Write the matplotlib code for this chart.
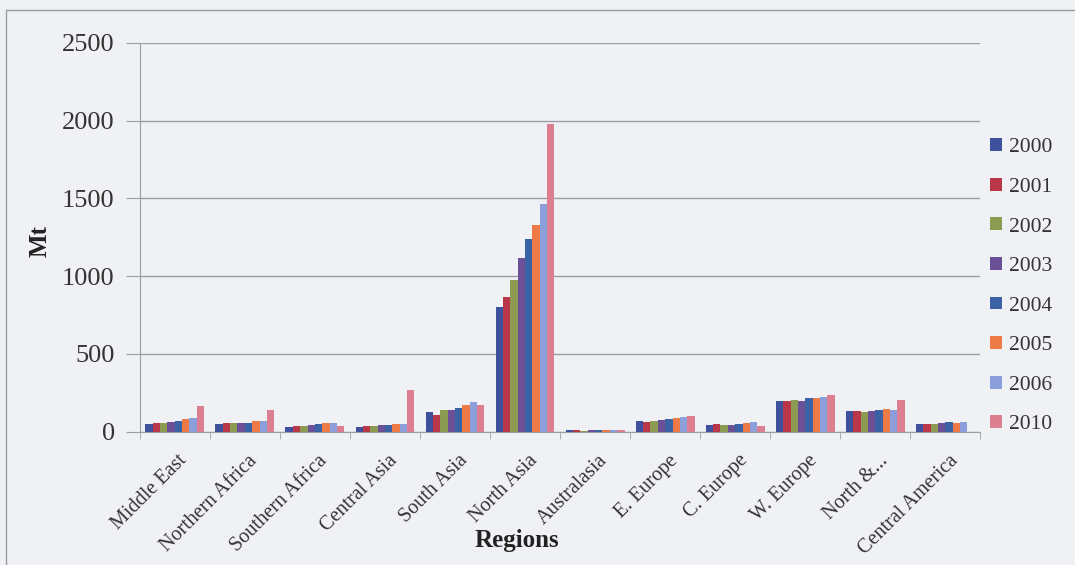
import numpy as np
import matplotlib
matplotlib.use("Agg")
import matplotlib.pyplot as plt
import matplotlib.transforms as mtrans
from matplotlib.patches import Rectangle

regions = ["Middle East", "Northern Africa", "Southern Africa", "Central Asia",
           "South Asia", "North Asia", "Australasia", "E. Europe", "C. Europe",
           "W. Europe", "North &...", "Central America"]
years = ["2000", "2001", "2002", "2003", "2004", "2005", "2006", "2010"]

v2000 = [51, 51, 32, 30, 128, 799, 8, 66, 45, 200, 130, 47]
v2001 = [58, 58, 38, 34, 109, 863, 8, 62, 51, 200, 130, 47]
v2002 = [58, 58, 38, 38, 137, 974, 5, 70, 40, 204, 124, 51]
v2003 = [64, 58, 45, 40, 141, 1120, 8, 74, 40, 200, 130, 55]
v2004 = [70, 58, 47, 40, 152, 1241, 10, 79, 51, 219, 139, 60]
v2005 = [79, 68, 58, 47, 173, 1327, 10, 89, 57, 219, 145, 57]
v2006 = [85, 68, 58, 51, 190, 1462, 10, 96, 64, 225, 141, 60]
v2010 = [167, 137, 34, 267, 171, 1980, 8, 100, 34, 234, 204, 0]

colors = ["#3d519c", "#b8384a", "#8c9a52", "#6c5097", "#3a62a4",
          "#ee7a48", "#8d9fda", "#dc7f91"]


def main():
    series = [v2000, v2001, v2002, v2003, v2004, v2005, v2006, v2010]
    plt.rcParams["font.family"] = ["Liberation Serif", "DejaVu Serif"]

    fig = plt.figure(figsize=(10.75, 5.65), dpi=100, facecolor="#eff1f5")
    ax = fig.add_axes([0.130, 0.236, 0.782, 0.688])
    ax.set_facecolor("#eff1f5")

    # slide frame
    fig.patches.append(Rectangle((0.006, -0.1), 1.2, 1.082, transform=fig.transFigure,
                                 fill=False, edgecolor="#9a9ca0", linewidth=1.0))

    x = np.arange(len(regions))
    w = 0.105
    for i, (vals, col) in enumerate(zip(series, colors)):
        ax.bar(x + (i - 3.5) * w, vals, width=w, color=col, label=years[i], zorder=3)

    ax.set_ylim(0, 2500)
    ax.set_xlim(-0.5, len(regions) - 0.5)
    ax.set_yticks(range(0, 2501, 500))
    ax.yaxis.grid(True, color="#9c9ea3", linewidth=1.0, zorder=0)
    ax.tick_params(axis="y", length=10, color="#9c9ea3", labelsize=19,
                   labelcolor="#333333", pad=8)

    ax.set_xticks(x)
    ax.set_xticklabels(regions, rotation=45, ha="right", rotation_mode="anchor",
                       fontsize=14.5, color="#333333")
    ax.tick_params(axis="x", length=0, pad=4)
    shift = mtrans.ScaledTranslation(0.03, -0.14, fig.dpi_scale_trans)
    for lab in ax.get_xticklabels():
        lab.set_transform(lab.get_transform() + shift)
    ax.set_xticks(np.arange(-0.5, len(regions), 1), minor=True)
    ax.tick_params(axis="x", which="minor", length=5, color="#9c9ea3")

    for s in ["top", "right"]:
        ax.spines[s].set_visible(False)
    for s in ["left", "bottom"]:
        ax.spines[s].set_color("#9c9ea3")

    ax.set_ylabel("Mt", fontsize=18, fontweight="bold", color="#222222")
    ax.yaxis.set_label_coords(-0.105, 0.49)
    ax.set_xlabel("Regions", fontsize=18, fontweight="bold", color="#222222")
    ax.xaxis.set_label_coords(0.449, -0.279)
    ax.xaxis.label.set_va("center")

    leg = ax.legend(loc="center left", bbox_to_anchor=(1.012, 0.374), frameon=False,
                    fontsize=15.5, handlelength=0.55, handleheight=0.55,
                    handletextpad=0.3, labelspacing=0.95, borderaxespad=0,
                    borderpad=0)
    for t in leg.get_texts():
        t.set_color("#333333")

    fig.savefig("out.png", dpi=100, facecolor=fig.get_facecolor())


if __name__ == "__main__":
    main()
